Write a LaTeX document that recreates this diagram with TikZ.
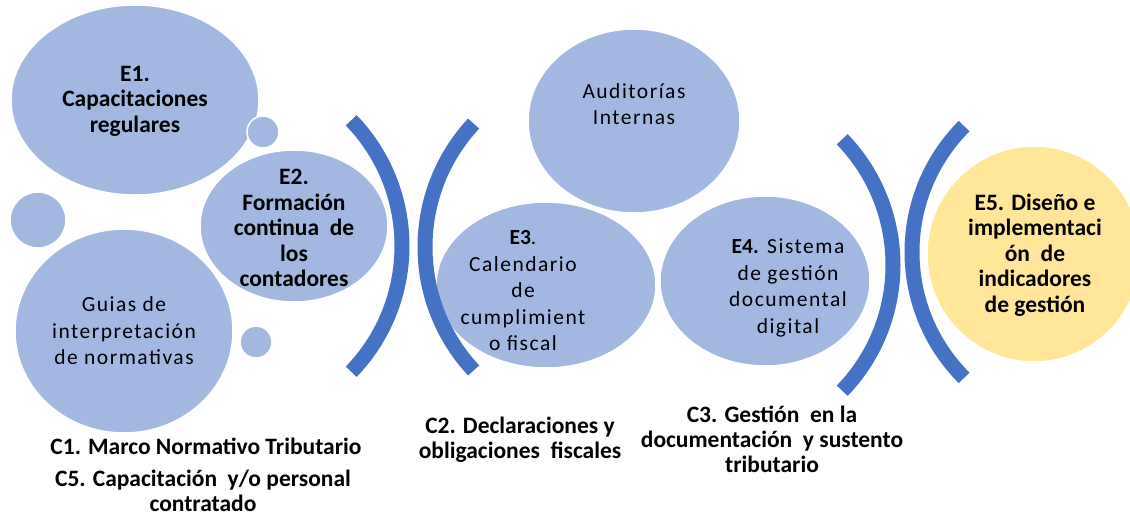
\documentclass[tikz,border=0pt]{standalone}
\usepackage{fontspec}
\setmainfont{Carlito}
\newfontfamily\spaced[LetterSpace=7]{Carlito}
\usetikzlibrary{shapes.geometric}
\definecolor{bubble}{RGB}{162,184,224}
\definecolor{gold}{RGB}{255,230,153}
\definecolor{arcblue}{RGB}{68,114,196}
\tikzset{
  blob/.style={ellipse, fill=bubble, draw=white, line width=1.5pt, inner sep=0pt},
  yblob/.style={blob, fill=gold},
  bt/.style={align=center, font=\fontsize{23.5}{25.5}\selectfont\bfseries, inner sep=0pt},
  rt/.style={align=center, font=\fontsize{21.5}{26.5}\selectfont\spaced, inner sep=0pt},
  lab/.style={align=center, font=\fontsize{23.5}{25}\selectfont\bfseries, inner sep=0pt},
  paren/.style={draw=arcblue, line width=15pt}
}
\begin{document}
\begin{tikzpicture}[x=1pt,y=-1pt]
\useasboundingbox (0,0) rectangle (1130,515);
% bubbles
\node[blob, minimum width=248, minimum height=190] (e1) at (135,100) {};
\node[blob, minimum width=218, minimum height=204] (guia) at (124,331) {};
\node[blob, minimum width=56, minimum height=56] (s1) at (38,220) {};
\node[blob, minimum width=188, minimum height=152] (e2) at (294,226) {};
\node[blob, minimum width=32, minimum height=32] (s2) at (263,132) {};
\node[blob, minimum width=32, minimum height=32] (s3) at (256,342) {};
\node[blob, minimum width=212, minimum height=184] (aud) at (634,121) {};
\node[blob, minimum width=220, minimum height=166] (e3) at (546,285) {};
\node[blob, minimum width=210, minimum height=170] (e4) at (765,281) {};
\node[yblob, minimum width=214, minimum height=216] (e5) at (1034,254) {};
% brackets
\coordinate (c1) at (221,246);
\coordinate (c2) at (606,247);
\coordinate (c3) at (712,265);
\coordinate (c4) at (1090,252);
\draw[paren] (c1) ++(-44:181) arc[start angle=-44, end angle=44, radius=181];
\draw[paren] (c2) ++(137:181) arc[start angle=137, end angle=223, radius=181];
\draw[paren] (c3) ++(-44:181) arc[start angle=-44, end angle=44, radius=181];
\draw[paren] (c4) ++(135:178) arc[start angle=135, end angle=225, radius=178];
% texts
\node[bt] (t1) at (135,101) {E1.\\Capacitaciones\\regulares};
\node[bt] (t2) at (294,228) {E2.\\Formación\\continua\ \ de\\los\\contadores};
\node[rt] (tg) at (124,331) {Guias de\\interpretación\\de normativas};
\node[rt] (ta) at (634,104) {Auditorías\\Internas};
\node[rt] (t3) at (523,291) {{\normalfont\bfseries E3}.\\Calendario\\de\\cumplimient\\o fiscal};
\node[rt] (t4) at (788,288) {{\normalfont\bfseries E4.} Sistema\\de gestión\\documental\\digital};
\node[bt] (t5) at (1035,255) {E5. Diseño e\\implementaci\\ón\ \ de\\indicadores\\de gestión};
% labels
\node[lab] (l1) at (206,446) {C1. Marco Normativo Tributario};
\node[lab] (l5) at (203,491) {C5. Capacitación\ \ y/o personal\\contratado};
\node[lab] (l2) at (520,440) {C2. Declaraciones y\\obligaciones\ \ fiscales};
\node[lab] (l3) at (772,439) {C3. Gestión\ \ en la\\documentación\ \ y sustento\\tributario};
\end{tikzpicture}
\end{document}
